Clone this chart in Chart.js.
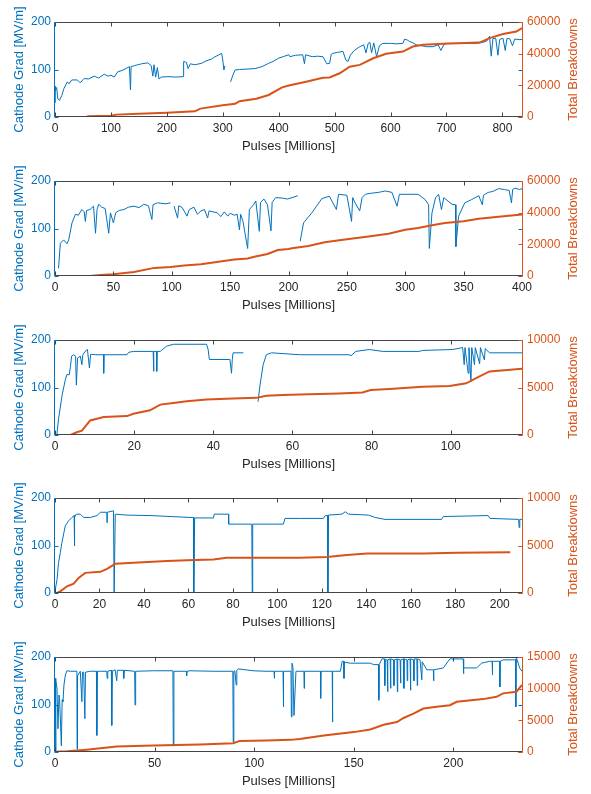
<!DOCTYPE html>
<html><head><meta charset="utf-8">
<script src="https://cdn.jsdelivr.net/npm/chart.js@4/dist/chart.umd.min.js"></script>
<style>
html,body{margin:0;padding:0;background:#fff;width:591px;height:794px;overflow:hidden}
.p{position:absolute;left:0;width:591px;height:158px}
canvas{display:block}
</style></head><body>
<div class="p" style="top:0px"><canvas id="c1" width="591" height="158"></canvas></div>
<div class="p" style="top:159px"><canvas id="c2" width="591" height="158"></canvas></div>
<div class="p" style="top:318px"><canvas id="c3" width="591" height="158"></canvas></div>
<div class="p" style="top:476px"><canvas id="c4" width="591" height="158"></canvas></div>
<div class="p" style="top:635px"><canvas id="c5" width="591" height="158"></canvas></div>
<script>
// ---------- texts ----------
const X_TITLE = 'Pulses [Millions]';
const Y_LEFT_TITLE = 'Cathode Grad [MV/m]';
const Y_RIGHT_TITLE = 'Total Breakdowns';

// ---------- shared left axis ----------
const gradMax = 200;
const gradTicks = [0, 100, 200];

// ---------- panel 1 ----------
const xMax1 = 835;
const xTicks1 = [0, 100, 200, 300, 400, 500, 600, 700, 800];
const bdMax1 = 60000;
const bdTicks1 = [0, 20000, 40000, 60000];
const grad1 = [[0,30],[0,65],[1,55],[3,62],[5,38],[8,35],[12,45],[16,60],[22,74],[25,70],[30,78],[40,78],[45,72],[52,81],[60,80],[70,86],[78,82],[88,90],[95,86],[100,88],[106,84],[112,95],[120,98],[127,102],[133,106],[135,57],[136,106],[142,108],[148,110],[155,112],[166,114],[172,108],[175,86],[177,110],[180,84],[183,104],[186,80],[190,84],[202,85],[215,84],[229,85],[230,117],[235,115],[238,102],[242,112],[250,110],[262,113],[270,118],[280,122],[286,127],[292,130],[298,134],[300,120],[302,99],[304,108],[306,null],[314,74],[318,88],[322,99],[330,100],[345,101],[358,102],[370,106],[382,113],[390,117],[400,124],[408,127],[418,131],[420,127],[430,130],[443,131],[446,112],[448,131],[460,127],[470,128],[479,127],[486,112],[491,113],[494,132],[497,134],[505,136],[515,138],[520,120],[524,117],[528,130],[535,140],[545,148],[552,152],[556,135],[560,155],[563,157],[566,135],[570,156],[575,127],[580,150],[586,155],[600,155],[610,154],[622,155],[625,164],[630,162],[634,159],[640,156],[646,152],[655,150],[664,148],[676,148],[685,152],[690,140],[695,152],[700,155],[720,155],[740,155],[753,155],[765,157],[772,160],[777,170],[780,128],[783,165],[788,166],[792,130],[795,163],[801,166],[805,140],[808,165],[813,165],[818,150],[822,164],[830,163],[835,163]];
const bd1 = [[0,0],[55,0],[60,400],[100,850],[110,1500],[150,2000],[200,2750],[250,3600],[260,5300],[300,7400],[322,8300],[330,10000],[360,11500],[382,13900],[406,18700],[420,20100],[449,22300],[479,24800],[491,25000],[509,27600],[527,31800],[545,32900],[569,37100],[592,39900],[622,41300],[640,44500],[658,45600],[694,46200],[759,47000],[777,49800],[801,52400],[825,54000],[835,56200]];

// ---------- panel 2 ----------
const xMax2 = 400;
const xTicks2 = [0, 50, 100, 150, 200, 250, 300, 350, 400];
const bdMax2 = 60000;
const bdTicks2 = [0, 20000, 40000, 60000];
const grad2 = [[3,16],[4.6,69],[7.4,76],[10.3,68],[11.7,76],[14.6,112],[17.5,130],[20,128],[23,140],[25,135],[26,115],[27,138],[30,140],[33,147],[34.7,90],[36,140],[37.5,151],[40,145],[43,142],[46,90],[47.5,133],[50,112],[52,133],[55,138],[59,140],[63,145],[67.6,147],[72,144],[76,151],[80,148],[83,119],[84,150],[87.7,154],[95,152],[99,154],[100,null],[102,147],[105,122],[106,148],[109,144],[113,126],[115,140],[119,145],[122,130],[125,137],[128,140],[130.7,122],[132,137],[139,133],[142,125],[145,135],[148,126],[150,132],[153.6,128],[156,130],[158,97],[159,130],[161,115],[165,58],[166.5,140],[170,150],[172,158],[175,94],[176,155],[179,162],[182,150],[185,95],[186,155],[189,165],[195,164],[199,162],[203,165],[208,169],[209,null],[210,73],[212.9,112],[220,133],[228.6,163],[235,168],[241,140],[242.9,172],[250,170],[254,115],[255,165],[257,154],[261,137],[263,165],[265.7,172],[270,174],[277,176],[283,179],[288.6,176],[293,147],[295,172],[305,172],[311,172],[317,161],[320,150],[320.6,58],[322.9,133],[326,165],[328.6,172],[331,140],[333,165],[340,151],[343,150],[343.4,62],[345.7,126],[351,154],[357,161],[363,169],[366,150],[367,170],[371,176],[375,178],[380,184],[385,182],[389,180],[391,154],[392,182],[394,185],[398,182],[400,184]];
const bd2 = [[3,0],[30,0],[39,640],[50,1070],[67.6,2560],[85,5120],[99,5760],[110.6,6620],[125,7470],[153.6,10460],[165,11100],[170.8,12170],[182,13880],[190.8,16440],[200,17080],[202.9,17500],[217,19000],[231,21350],[250,23270],[268.6,24980],[285.7,26690],[300,29250],[311,30320],[322.9,32030],[334,33520],[350,34590],[362.9,36090],[380,37370],[400,38860]];

// ---------- panel 3 ----------
const xMax3 = 118;
const xTicks3 = [0, 20, 40, 60, 80, 100];
const bdMax3 = 10000;
const bdTicks3 = [0, 5000, 10000];
const grad3 = [[0.5,2],[0.9,34],[1.8,84],[2.6,116],[3,127],[3.6,127],[3.9,144],[4.2,166],[4.7,169],[5.2,166],[5.4,105],[5.7,162],[6.4,166],[6.8,148],[7,168],[7.6,176],[8.2,180],[8.7,141],[9,170],[10.2,169],[12.3,169],[12.3,130],[12.4,169],[18.2,169],[18.6,174],[19.8,176],[24.8,176],[24.9,134],[25,176],[25.7,176],[25.7,134],[25.8,176],[26.6,176],[28.2,187],[29.9,191],[38.3,191],[38.7,180],[39,159],[41.7,159],[44.2,159],[44.6,130],[44.8,160],[45,173],[47.6,173],[48,null],[51.3,70],[51.8,105],[52.6,148],[53.4,169],[54.7,173],[61.8,169],[74.3,169],[74.8,167],[76,176],[79.4,180],[82.8,176],[92,176],[92.9,178],[100.5,180],[103,184],[103.4,148],[103.6,184],[104.4,130],[104.6,184],[105.1,112],[105.3,184],[106,148],[106.2,184],[107.3,150],[107.5,184],[108.5,158],[108.7,182],[109.8,173],[118,173]];
const bd3 = [[0,0],[3.9,0],[5.5,285],[6.8,463],[8.9,1530],[12.3,1890],[18.2,1990],[19.8,2240],[24,2600],[26.6,3200],[29.9,3380],[33.3,3560],[38.3,3740],[45,3840],[50.9,3910],[53.4,4130],[57.6,4200],[61.8,4270],[71.8,4380],[77.7,4480],[79.8,4730],[84.5,4840],[92.9,5090],[99.7,5160],[103.9,5440],[106.4,5980],[109.8,6690],[118,6980]];

// ---------- panel 4 ----------
const xMax4 = 210;
const xTicks4 = [0, 20, 40, 60, 80, 100, 120, 140, 160, 180, 200];
const bdMax4 = 10000;
const bdTicks4 = [0, 5000, 10000];
const grad4 = [[0.1,7],[0.9,28],[1.6,64],[2.4,85],[3.1,106],[4.6,141],[6.1,152],[7.6,159],[8.6,163],[8.7,99],[8.9,160],[9.6,166],[11.4,166],[12.9,159],[15.9,159],[18.9,163],[20.4,170],[23.3,170],[23.4,148],[23.5,170],[26.3,173],[26.6,0],[27.1,166],[32.3,164],[42.8,163],[60.8,159],[62.3,159],[62.4,0],[62.8,158],[71.3,158],[71.6,166],[78,166],[78.1,145],[88.5,145],[88.7,0],[88.9,145],[102.7,145],[103.4,157],[110,157],[120.7,157],[121.5,163],[122.6,163],[122.7,0],[123,164],[129,166],[130.5,171],[132,166],[141,164],[144,159],[148.4,155],[173.8,155],[174.6,161],[194.8,163],[195.6,157],[208.5,155],[208.7,138],[209,155],[210,155]];
const bd4 = [[0.9,0],[2.4,177],[5.4,707],[8.4,990],[10.6,1590],[13.6,2120],[20.4,2230],[23.4,2540],[27.1,3070],[35.3,3180],[50.3,3360],[59.3,3460],[71.3,3530],[77.2,3710],[87.7,3710],[110,3710],[122.3,3780],[131.3,3990],[140.3,4170],[165.8,4170],[180.8,4240],[204.7,4280]];

// ---------- panel 5 ----------
const xMax5 = 234.5;
const xTicks5 = [0, 50, 100, 150, 200];
const bdMax5 = 15000;
const bdTicks5 = [0, 5000, 10000, 15000];
const grad5 = [[0.2,155],[0.3,3],[0.5,150],[1,134],[1.5,49],[2,120],[2.3,113],[3.2,13],[3.6,110],[4,106],[4.5,141],[5.2,162],[6,171],[7.7,170],[11,170],[11.1,6],[11.3,160],[12.7,170],[13.5,106],[13.8,168],[14.4,168],[15,70],[15.3,168],[17.7,170],[20.8,170],[21,35],[21.3,170],[22.7,170],[26,170],[26.2,155],[26.5,170],[28.3,172],[28.5,56],[28.8,170],[30.2,173],[31,150],[31.3,172],[34.4,172],[34.5,155],[34.8,172],[40,170],[40.2,99],[40.5,170],[49.4,171],[59.2,171],[59.4,13],[59.7,170],[66,170],[66.1,160],[66.3,170],[67.8,171],[79.5,170],[89.3,170],[89.5,21],[89.8,170],[90.3,171],[91,141],[91.3,172],[92,175],[99.5,171],[106,170],[110,170],[110.1,155],[110.3,170],[114.5,170],[114.6,95],[114.9,170],[118.5,170],[118.7,74],[119,187],[119.5,177],[120,77],[121,170],[125,170],[125.1,134],[125.3,170],[133.3,170],[133.4,113],[133.6,170],[139.2,170],[139.3,63],[139.5,170],[143.3,170],[144.2,191],[145,191],[145.1,155],[145.3,189],[148.3,187],[158.3,187],[160,184],[162.5,184],[162.6,109],[162.8,184],[164.2,196],[165.5,196],[165.6,140],[165.8,194],[166.8,194],[167,127],[167.2,194],[168.3,196],[168.5,134],[168.7,196],[170,194],[170.2,140],[170.4,194],[171.7,196],[171.9,127],[172.1,196],[173.3,194],[173.5,145],[173.7,194],[175,196],[175.2,134],[175.4,196],[176.7,194],[176.9,150],[177.1,194],[178.3,196],[178.5,130],[178.7,196],[180,194],[180.2,150],[180.4,196],[181.7,196],[181.9,140],[182.1,196],[183.3,194],[184.2,152],[184.4,190],[186.7,173],[190,173],[190.1,150],[190.3,173],[195,177],[198.3,196],[203.3,196],[205,196],[205.1,165],[205.3,177],[211.7,177],[214.2,187],[218.3,191],[219.5,191],[219.6,162],[219.8,191],[223.3,191],[223.4,137],[223.6,191],[225,194],[231.3,194],[231.4,95],[231.6,200],[233.3,177],[234.5,170]];
const bd5 = [[0,50],[6,100],[16,370],[22.7,585],[31,850],[49.4,1010],[72.8,1170],[89.5,1380],[92.8,1755],[106.2,1810],[118.3,1915],[122.9,2070],[135,2600],[150,3140],[158.3,3560],[165,4300],[171.7,4730],[175,5370],[180,6060],[185,6860],[191.7,7130],[198.3,7390],[201.7,7930],[215,8350],[221.7,8720],[225,9260],[231.7,9520],[234.5,10590]];

// ---------- style ----------
const FONT = "'Liberation Sans', Arial, Helvetica, sans-serif";
const BLUE = '#0072BD', ORANGE = '#D95319', DARK = '#262626', BOX = '#444444';
const TICK_LEN = 4;

function toXY(pairs) { return pairs.map(p => ({ x: p[0], y: p[1] })); }
function fixTicks(vals) { return s => { s.ticks = vals.map(v => ({ value: v })); }; }

const framePlugin = {
  id: 'frame',
  afterDraw(chart) {
    const ctx = chart.ctx, a = chart.chartArea;
    const L = Math.round(a.left) - 0.5, R = Math.round(a.right) + 0.5;
    const T = Math.round(a.top) + 0.5, B = Math.round(a.bottom) - 0.5;
    ctx.save();
    ctx.lineWidth = 1;
    // top & bottom spines + x ticks
    ctx.strokeStyle = BOX;
    ctx.beginPath();
    ctx.moveTo(L, T); ctx.lineTo(R, T);
    ctx.moveTo(L, B); ctx.lineTo(R, B);
    chart.scales.x.ticks.forEach(t => {
      const px = Math.round(chart.scales.x.getPixelForValue(t.value)) + 0.5;
      ctx.moveTo(px, B); ctx.lineTo(px, B - TICK_LEN);
      ctx.moveTo(px, T); ctx.lineTo(px, T + TICK_LEN);
    });
    ctx.stroke();
    // left spine + ticks (also mirrored on right)
    ctx.strokeStyle = BLUE;
    ctx.beginPath();
    ctx.moveTo(L, T); ctx.lineTo(L, B);
    chart.scales.yL.ticks.forEach(t => {
      const py = Math.round(chart.scales.yL.getPixelForValue(t.value)) + 0.5;
      ctx.moveTo(L, py); ctx.lineTo(L + TICK_LEN, py);
      ctx.moveTo(R, py); ctx.lineTo(R - TICK_LEN, py);
    });
    ctx.stroke();
    // right spine + ticks
    ctx.strokeStyle = ORANGE;
    ctx.beginPath();
    ctx.moveTo(R, T); ctx.lineTo(R, B);
    chart.scales.yR.ticks.forEach(t => {
      const py = Math.round(chart.scales.yR.getPixelForValue(t.value)) + 0.5;
      ctx.moveTo(R, py); ctx.lineTo(R - TICK_LEN, py);
    });
    ctx.stroke();
    // right axis title, reading bottom-to-top
    ctx.translate(a.right + 51, (a.top + a.bottom) / 2);
    ctx.rotate(-Math.PI / 2);
    ctx.fillStyle = ORANGE;
    ctx.font = '13px ' + FONT;
    ctx.textAlign = 'center';
    ctx.textBaseline = 'middle';
    ctx.fillText(Y_RIGHT_TITLE, 0, 0);
    ctx.restore();
  }
};

function makePanel(id, grad, bd, xMax, xTicks, bdMax, bdTicks) {
  new Chart(document.getElementById(id), {
    type: 'line',
    data: {
      datasets: [
        { data: toXY(bd), yAxisID: 'yR', borderColor: ORANGE, borderWidth: 2, pointRadius: 0, tension: 0, fill: false },
        { data: toXY(grad), yAxisID: 'yL', borderColor: BLUE, borderWidth: 1, pointRadius: 0, tension: 0, fill: false, spanGaps: false }
      ]
    },
    options: {
      responsive: false, animation: false, devicePixelRatio: 1,
      layout: { padding: { top: 22, left: 0, right: 0, bottom: 0 } },
      plugins: { legend: { display: false }, tooltip: { enabled: false } },
      scales: {
        x: {
          type: 'linear', position: 'bottom', min: 0, max: xMax,
          afterBuildTicks: fixTicks(xTicks),
          afterFit: s => { s.height = 41; },
          grid: { display: false, drawTicks: false }, border: { display: false },
          ticks: { color: DARK, font: { family: FONT, size: 12 }, padding: 4, maxRotation: 0, minRotation: 0, autoSkip: false, callback: v => String(v) },
          title: { display: true, text: X_TITLE, color: DARK, font: { family: FONT, size: 13 }, padding: { top: 0, bottom: 4 } }
        },
        yL: {
          type: 'linear', position: 'left', min: 0, max: gradMax,
          afterBuildTicks: fixTicks(gradTicks),
          afterFit: s => { s.width = 55; },
          grid: { display: false, drawTicks: false }, border: { display: false },
          ticks: { color: BLUE, font: { family: FONT, size: 12 }, padding: 4, callback: v => String(v) },
          title: { display: true, text: Y_LEFT_TITLE, color: BLUE, font: { family: FONT, size: 13 }, padding: { top: 12, bottom: 0 } }
        },
        yR: {
          type: 'linear', position: 'right', min: 0, max: bdMax,
          afterBuildTicks: fixTicks(bdTicks),
          afterFit: s => { s.width = 69; },
          grid: { display: false, drawTicks: false }, border: { display: false },
          ticks: { color: ORANGE, font: { family: FONT, size: 12 }, padding: 5, callback: v => String(v) },
          title: { display: false }
        }
      }
    },
    plugins: [framePlugin]
  });
}

makePanel('c1', grad1, bd1, xMax1, xTicks1, bdMax1, bdTicks1);
makePanel('c2', grad2, bd2, xMax2, xTicks2, bdMax2, bdTicks2);
makePanel('c3', grad3, bd3, xMax3, xTicks3, bdMax3, bdTicks3);
makePanel('c4', grad4, bd4, xMax4, xTicks4, bdMax4, bdTicks4);
makePanel('c5', grad5, bd5, xMax5, xTicks5, bdMax5, bdTicks5);
</script>
</body></html>
